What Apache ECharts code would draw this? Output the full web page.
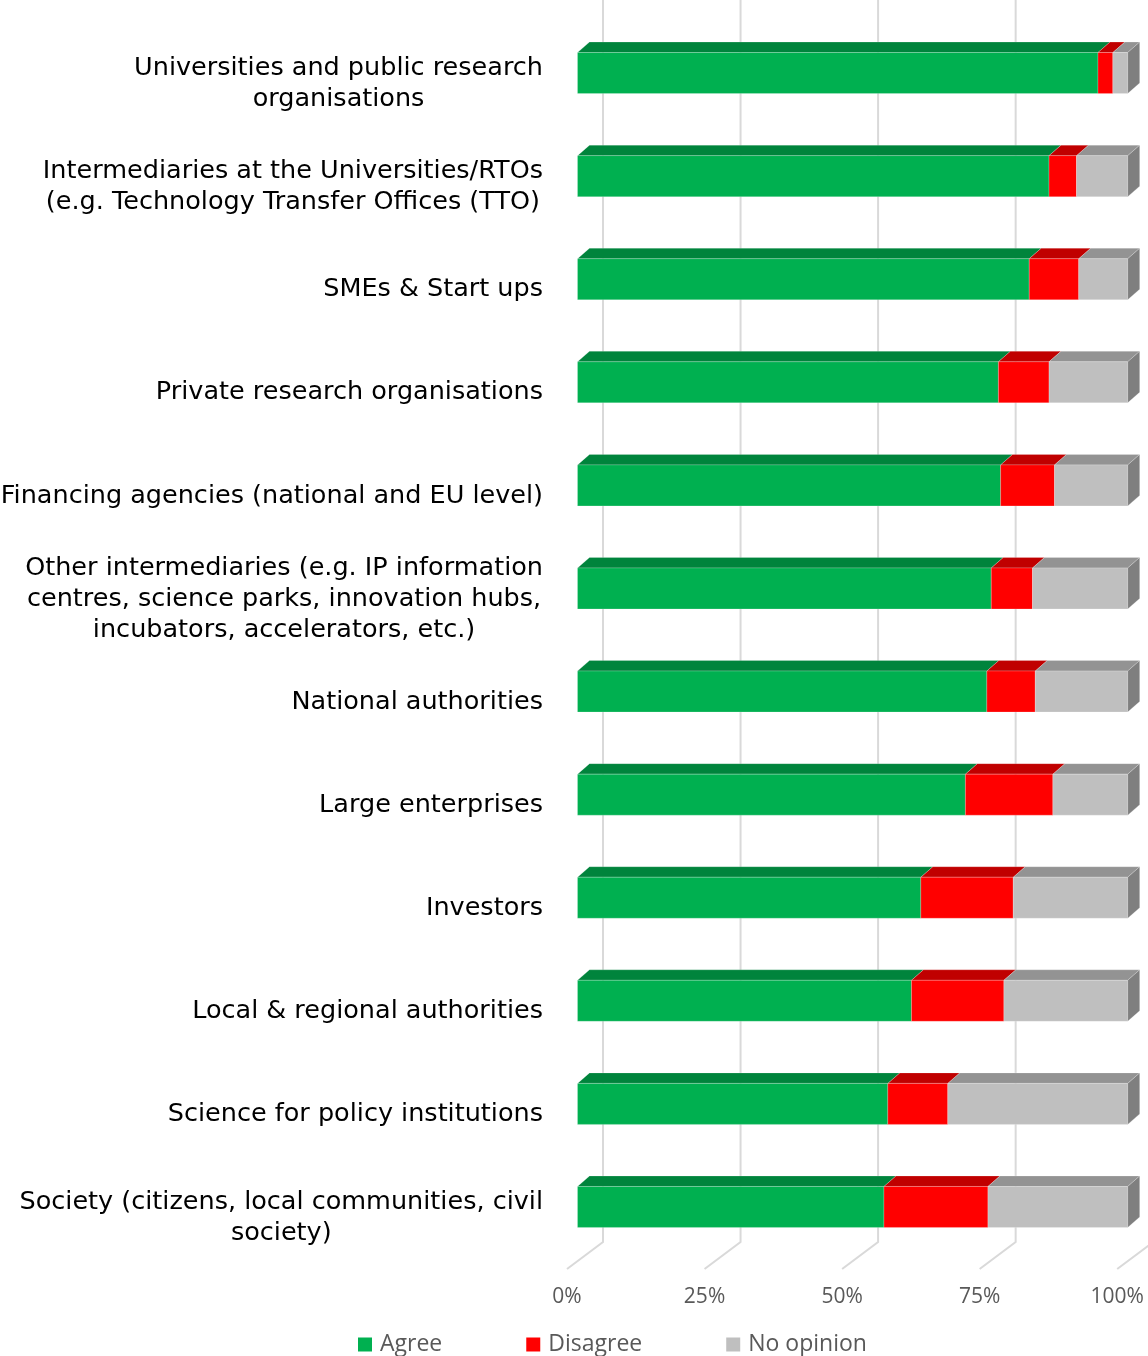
<!DOCTYPE html>
<html>
<head>
<meta charset="utf-8">
<script src="https://cdn.jsdelivr.net/npm/echarts@6/dist/echarts.min.js"></script>
<style>
  html, body { margin: 0; padding: 0; background: #ffffff; }
  #chart { width: 1148px; height: 1356px; }
</style>
</head>
<body>
<div id="chart"></div>
<script>
// Stakeholder groups, top to bottom
const categories = [
  'Universities and public research\norganisations',
  'Intermediaries at the Universities/RTOs\n(e.g. Technology Transfer Offices (TTO)',
  'SMEs & Start ups',
  'Private research organisations',
  'Financing agencies (national and EU level)',
  'Other intermediaries (e.g. IP information\ncentres, science parks, innovation hubs,\nincubators, accelerators, etc.)',
  'National authorities',
  'Large enterprises',
  'Investors',
  'Local & regional authorities',
  'Science for policy institutions',
  'Society (citizens, local communities, civil\nsociety)'
];

// Share of answers (%)
const agree     = [94.6, 85.7, 82.1, 76.5, 76.9, 75.2, 74.4, 70.5, 62.4, 60.7, 56.4, 55.7];
const disagree  = [2.7, 5.0, 9.0, 9.2, 9.8, 7.5, 8.8, 15.9, 16.8, 16.8, 10.9, 18.9];
const noOpinion = [2.7, 9.3, 8.9, 14.3, 13.3, 17.3, 16.8, 13.6, 20.8, 22.5, 32.7, 25.4];

const seriesNames = ['Agree', 'Disagree', 'No opinion'];
const xTicks = [0, 25, 50, 75, 100];

const LABEL_FONT = '"DejaVu Sans", Verdana, sans-serif';
const SMALL_FONT = '"Open Sans", sans-serif';

// Face colours for the pseudo-3D bars: front, top, side
const faces = [
  { front: '#00b050', top: '#00843c', side: '#00703a' },
  { front: '#ff0000', top: '#c00000', side: '#a00000' },
  { front: '#bfbfbf', top: '#939393', side: '#7f7f7f' }
];

// Depth of the bars and of the floor / back wall
const DX = 12, DY = 10.5;          // bar depth offset
const WALL_DX = 25.5;              // back wall offset from the front of the bars
const FLOOR_DX = -10.5;            // front floor edge offset
const FLOOR_DY = 27;               // floor depth in y
const FACE_UP = 31, FACE_DOWN = 10;

// Stack the three answer groups into [start, end, categoryIndex] records
const groups = [agree, disagree, noOpinion];
const stacked = groups.map(() => []);
categories.forEach((c, i) => {
  let acc = 0;
  groups.forEach((g, s) => {
    stacked[s].push([acc, acc + g[i], i]);
    acc += g[i];
  });
});

function barRenderer(s) {
  const f = faces[s];
  const isLast = s === groups.length - 1;
  return function (params, api) {
    const start = api.value(0), end = api.value(1), cat = api.value(2);
    const p0 = api.coord([start, cat]);
    const p1 = api.coord([end, cat]);
    const x0 = p0[0], x1 = p1[0];
    const yt = p0[1] - FACE_UP, yb = p0[1] + FACE_DOWN;
    const edge = 'rgba(255,255,255,0.35)';
    const children = [
      {
        type: 'polygon',
        shape: { points: [[x0, yt], [x1, yt], [x1 + DX, yt - DY], [x0 + DX, yt - DY]] },
        style: { fill: f.top, stroke: edge, lineWidth: 0.6 }
      },
      {
        type: 'rect',
        shape: { x: x0, y: yt, width: x1 - x0, height: yb - yt },
        style: { fill: f.front, stroke: edge, lineWidth: 0.6 }
      }
    ];
    if (isLast) {
      children.push({
        type: 'polygon',
        shape: { points: [[x1, yt], [x1 + DX, yt - DY], [x1 + DX, yb - DY], [x1, yb]] },
        style: { fill: f.side, stroke: edge, lineWidth: 0.6 }
      });
    }
    return { type: 'group', children: children };
  };
}

function gridRenderer(params, api) {
  const cs = params.coordSys;
  const x = api.coord([api.value(0), 0])[0];
  const bottom = cs.y + cs.height;
  return {
    type: 'polyline',
    shape: {
      points: [
        [x + WALL_DX, 0],
        [x + WALL_DX, bottom - FLOOR_DY],
        [x + FLOOR_DX, bottom]
      ]
    },
    style: { stroke: '#d9d9d9', lineWidth: 2, fill: null }
  };
}

const chart = echarts.init(document.getElementById('chart'), null, { renderer: 'canvas' });

const series = [
  {
    type: 'custom',
    name: 'grid',
    silent: true,
    z: 1,
    clip: false,
    data: xTicks.map(v => [v]),
    encode: { x: 0 },
    renderItem: gridRenderer
  }
];
stacked.forEach((data, s) => {
  series.push({
    type: 'custom',
    name: seriesNames[s],
    z: 2 + s,
    clip: false,
    itemStyle: { color: faces[s].front },
    data: data,
    encode: { x: [0, 1], y: 2 },
    renderItem: barRenderer(s)
  });
});

chart.setOption({
  animation: false,
  backgroundColor: '#ffffff',
  textStyle: { fontFamily: LABEL_FONT },
  grid: {
    left: 577.5, right: 20.3, top: 32, bottom: 87,
    containLabel: false,
    outerBoundsMode: 'none'
  },
  xAxis: {
    type: 'value',
    min: 0,
    max: 100,
    interval: 25,
    axisLine: { show: false },
    axisTick: { show: false },
    splitLine: { show: false },
    axisLabel: {
      formatter: '{value}%',
      color: '#595959',
      fontFamily: SMALL_FONT,
      fontSize: 21,
      margin: 18,
      padding: [0, 21, 0, 0]
    }
  },
  yAxis: {
    type: 'category',
    inverse: true,
    data: categories,
    axisLine: { show: false },
    axisTick: { show: false },
    splitLine: { show: false },
    axisLabel: {
      margin: 34.5,
      align: 'right',
      color: '#000000',
      fontFamily: LABEL_FONT,
      fontSize: 25.5,
      lineHeight: 31,
      formatter: function (v) {
        return v.split('\n').map(l => '{c|' + l + '}').join('\n');
      },
      rich: {
        c: {
          align: 'center',
          color: '#000000',
          fontFamily: LABEL_FONT,
          fontSize: 25.5,
          lineHeight: 31
        }
      }
    }
  },
  legend: {
    data: seriesNames,
    left: 358,
    top: 1333,
    padding: 0,
    icon: 'rect',
    itemWidth: 14,
    itemHeight: 14,
    itemGap: 84,
    textStyle: { color: '#595959', fontFamily: SMALL_FONT, fontSize: 23, padding: [0, 0, 0, 3] }
  },
  series: series
});
</script>
</body>
</html>
